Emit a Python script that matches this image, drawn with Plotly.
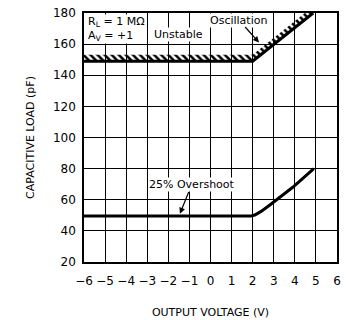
import plotly.graph_objects as go

# Data
x_unstable = [-6, 2, 4.87]
y_unstable = [149, 149, 180]
x_overshoot = [-6, 1.9, 2.1, 2.4, 2.8, 3.3, 3.9, 4.9]
y_overshoot = [49.5, 49.5, 50.2, 52.5, 56.5, 61.5, 68, 80]
hatch_offset = 4.2
x_ticks = list(range(-6, 7))
y_ticks = list(range(20, 181, 20))

fig = go.Figure()
# hatch band above the stability boundary
fig.add_trace(go.Scatter(x=x_unstable, y=y_unstable, mode="lines",
                         line=dict(width=0), showlegend=False, hoverinfo="skip"))
fig.add_trace(go.Scatter(x=x_unstable, y=[v + hatch_offset for v in y_unstable],
                         mode="lines", line=dict(width=0), fill="tonexty",
                         fillcolor="rgba(0,0,0,0)",
                         fillpattern=dict(shape="\\", size=5, solidity=0.5,
                                          fgcolor="black", fgopacity=1),
                         showlegend=False, hoverinfo="skip"))
fig.add_trace(go.Scatter(x=x_unstable, y=y_unstable, mode="lines",
                         line=dict(color="black", width=3), showlegend=False))
fig.add_trace(go.Scatter(x=x_overshoot, y=y_overshoot, mode="lines",
                         line=dict(color="black", width=3),
                         showlegend=False))

font = dict(family="DejaVu Sans", size=11, color="black")

fig.add_annotation(x=-5.85, y=174, xanchor="left", text="R<sub>L</sub> = 1 MΩ",
                   showarrow=False, font=font, bgcolor="white", borderpad=0)
fig.add_annotation(x=-5.85, y=165.5, xanchor="left", text="A<sub>V</sub> = +1",
                   showarrow=False, font=font, bgcolor="white", borderpad=0)
fig.add_annotation(x=-2.75, y=166.5, xanchor="left", text="Unstable",
                   showarrow=False, font=font, bgcolor="white", borderpad=0)
fig.add_annotation(x=2.3, y=161, ax=1.35, ay=175.5, axref="x", ayref="y",
                   text="Oscillation", showarrow=True, arrowhead=2, arrowsize=1,
                   arrowwidth=1.2, arrowcolor="black",
                   font=font, bgcolor="white", borderpad=0)
fig.add_annotation(x=-1.45, y=51, ax=-0.9, ay=69.5, axref="x", ayref="y",
                   text="25% Overshoot", showarrow=True, arrowhead=2, arrowsize=1,
                   arrowwidth=1.2, arrowcolor="black",
                   font=font, bgcolor="white", borderpad=0)

fig.update_xaxes(range=[-6, 6], tickvals=x_ticks,
                 ticktext=[("\u2212" + str(-v)) if v < 0 else str(v) for v in x_ticks],
                 showgrid=True, gridcolor="black", gridwidth=1,
                 showline=True, linecolor="black", linewidth=1.5, mirror=True,
                 zeroline=False, ticks="", ticklabelstandoff=7, automargin=False,
                 tickfont=dict(family="DejaVu Sans", size=12, color="black"),
                 title=dict(text="OUTPUT VOLTAGE (V)", font=dict(family="DejaVu Sans", size=11, color="black"),
                            standoff=21))
fig.update_yaxes(range=[20, 180], tickvals=y_ticks,
                 showgrid=True, gridcolor="black", gridwidth=1,
                 showline=True, linecolor="black", linewidth=1.5, mirror=True,
                 zeroline=False, ticks="", ticklabelstandoff=4, automargin=False,
                 tickfont=dict(family="DejaVu Sans", size=12, color="black"),
                 title=dict(text="CAPACITIVE LOAD (pF)", font=dict(family="DejaVu Sans", size=11, color="black"),
                            standoff=16))
fig.update_layout(width=347, height=320, margin=dict(l=84, r=10, t=13, b=58),
                  paper_bgcolor="white", plot_bgcolor="white")
fig.write_html("out.html")
